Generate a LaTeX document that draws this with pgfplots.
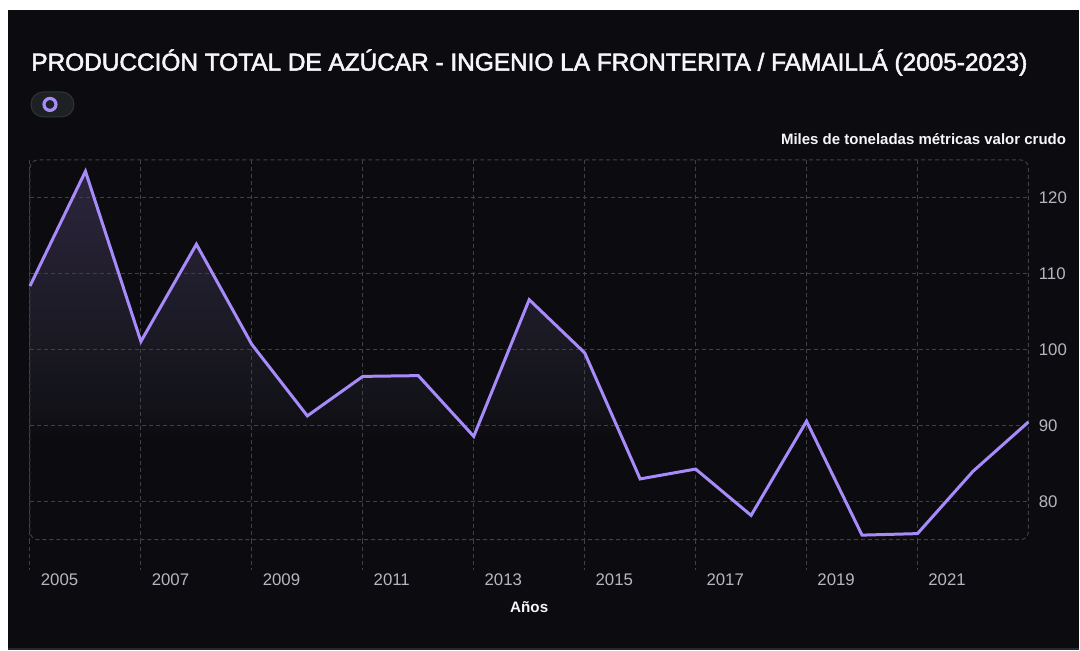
\documentclass[border=0pt]{standalone}
\usepackage{fontspec}
\setmainfont{Liberation Sans}
\newfontfamily\titlefont[FakeBold=2.2]{Liberation Sans}
\usepackage{pgfplots}
\usepackage{pgfplotstable}
\pgfplotsset{compat=1.18}

\definecolor{bg}{RGB}{12,12,16}
\definecolor{cardline}{RGB}{40,40,46}
\definecolor{gridc}{RGB}{64,64,70}
\definecolor{lineviolet}{RGB}{167,139,250}
\definecolor{tickc}{RGB}{182,182,192}
\definecolor{titlec}{RGB}{246,246,248}
\definecolor{pillfill}{RGB}{30,33,36}
\definecolor{pillline}{RGB}{48,52,56}
\definecolor{fillA}{RGB}{17,17,23}
\definecolor{fillB}{RGB}{26,25,35}
\definecolor{fillC}{RGB}{44,37,60}

% vertical gradient under the line (25bp..75bp maps onto the area's box)
\pgfdeclareverticalshading{areashade}{100bp}{color(0bp)=(bg); color(39bp)=(bg); color(42bp)=(fillA); color(52bp)=(fillB); color(75bp)=(fillC); color(100bp)=(fillC)}

\pgfplotstableread{
year value
2005 108.4
2006 123.5
2007 101.1
2008 113.9
2009 100.7
2010 91.3
2011 96.5
2012 96.6
2013 88.6
2014 106.6
2015 99.6
2016 83.0
2017 84.3
2018 78.2
2019 90.6
2020 75.6
2021 75.8
2022 84.0
2023 90.5
}\azucar

\tikzset{gridline/.style={gridc, line width=0.5pt, dash pattern=on 2pt off 1.5pt}}

\begin{document}
\begin{tikzpicture}
\fill[white] (0,0) rectangle (540pt,325.5pt);
\fill[bg] (4pt,0.5pt) rectangle (540pt,320.5pt);
\draw[cardline, line width=0.6pt] (540pt,0.8pt) -- (4pt,0.8pt);

% title
\node[anchor=base west, inner sep=0pt, text=titlec,
      font=\fontsize{12.2}{14}\titlefont]
  at (15.5pt,290.2pt) {PRODUCCIÓN TOTAL DE AZÚCAR - INGENIO LA FRONTERITA / FAMAILLÁ (2005-2023)};

% legend pill
\filldraw[fill=pillfill, draw=pillline, line width=0.5pt, rounded corners=6.2pt] (15.5pt,267pt) rectangle (37pt,279.5pt);
\filldraw[fill=pillfill, draw=lineviolet, line width=1.6pt] (25pt,273.25pt) circle (3pt);

% unit label
\node[anchor=base east, inner sep=0pt, text=titlec, font=\fontsize{7.5}{9}\selectfont\bfseries]
  at (533.5pt,253pt) {Miles de toneladas métricas valor crudo};

\begin{axis}[
  at={(15pt,55.5pt)}, anchor=south west,
  scale only axis, width=499.5pt, height=190pt,
  xmin=2005, xmax=2023, ymin=75, ymax=125,
  clip=false,
  axis line style={draw=none},
  tick style={draw=none},
  xtick={2005,2007,...,2021},
  ytick={80,90,...,120},
  yticklabel pos=right,
  /pgf/number format/assume math mode=true,
  /pgf/number format/1000 sep={},
  tick label style={font=\fontsize{8.4}{10}\selectfont, text=tickc, inner sep=0pt},
  yticklabel style={anchor=west, xshift=5pt},
  xticklabel style={anchor=north west, xshift=5.25pt, yshift=-17pt},
  xlabel={Años},
  xlabel style={at={(axis description cs:0.5,0)}, anchor=base, yshift=-36.65pt,
                font=\fontsize{7.6}{9}\selectfont\bfseries, text=titlec, inner sep=0pt},
]
% shaded area under the series (closed down to the axis floor at 75)
\addplot[draw=none, shading=areashade] coordinates {
  (2005,75) (2005,108.4) (2006,123.5) (2007,101.1) (2008,113.9) (2009,100.7)
  (2010,91.3) (2011,96.5) (2012,96.6) (2013,88.6) (2014,106.6) (2015,99.6)
  (2016,83.0) (2017,84.3) (2018,78.2) (2019,90.6) (2020,75.6) (2021,75.8)
  (2022,84.0) (2023,90.5) (2023,75)
};

% dashed grid drawn over the area, then the rounded frame and tick extensions
\pgfplotsinvokeforeach{80,90,100,110,120}{
  \draw[gridline] (axis cs:2005,#1) -- (axis cs:2023,#1);
}
\pgfplotsinvokeforeach{2007,2009,2011,2013,2015,2017,2019,2021}{
  \draw[gridline] (axis cs:#1,125) -- (axis cs:#1,75);
}
\pgfplotsinvokeforeach{2005,2007,2009,2011,2013,2015,2017,2019,2021}{
  \draw[gridline] (axis cs:#1,75) -- ([yshift=-15pt]axis cs:#1,75);
}
\draw[gridline] (axis cs:2005,125) -- (axis cs:2005,75);
\draw[gridline, rounded corners=4pt] (rel axis cs:0,0) rectangle (rel axis cs:1,1);

\addplot[lineviolet, line width=1.5pt] table[x=year, y=value] {\azucar};
\end{axis}
\end{tikzpicture}
\end{document}
